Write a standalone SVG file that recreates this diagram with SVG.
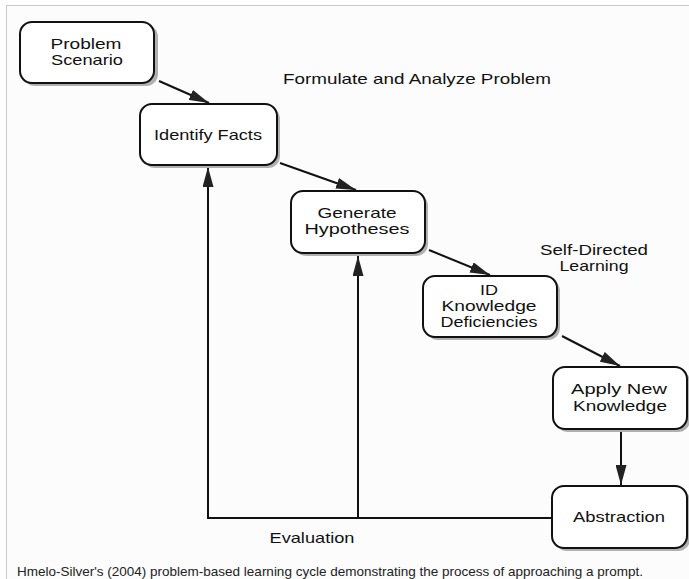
<svg xmlns="http://www.w3.org/2000/svg" width="689" height="579" viewBox="0 0 689 579">
<style>
.box{fill:#fff;stroke:#111;stroke-width:2}
.sh{fill:#b0b0b0}
.t{font-family:"Liberation Sans",Arial,sans-serif;font-size:15px;fill:#111;text-anchor:middle}
.ln{stroke:#111;stroke-width:2;fill:none}
.cap{font-family:"Liberation Sans",Arial,sans-serif;font-size:13px;fill:#222}
</style>
<defs>
<marker id="ah" viewBox="0 0 20 11" refX="20" refY="5.5" markerWidth="20" markerHeight="11" markerUnits="userSpaceOnUse" orient="auto">
<path d="M0,0 L20,5.5 L0,11 Z" fill="#222"/>
</marker>
</defs>
<rect x="0" y="0" width="689" height="579" fill="#fff"/>
<rect x="6.5" y="5.5" width="690" height="590" fill="#fcfcfc" stroke="#c8c8c8" stroke-width="1"/>
<g id="connectors">
<line class="ln" x1="159" y1="81" x2="209" y2="103" marker-end="url(#ah)"/>
<line class="ln" x1="280" y1="163" x2="356" y2="190" marker-end="url(#ah)"/>
<line class="ln" x1="429" y1="250" x2="490" y2="275" marker-end="url(#ah)"/>
<line class="ln" x1="562" y1="336" x2="620" y2="366" marker-end="url(#ah)"/>
<line class="ln" x1="621" y1="430" x2="621" y2="485" marker-end="url(#ah)"/>
<polyline class="ln" points="552,518 208,518 208,167" marker-end="url(#ah)"/>
<line class="ln" x1="358" y1="518" x2="358" y2="256" marker-end="url(#ah)"/>
</g>
<g id="problem-scenario">
<rect class="sh" x="23" y="25" width="135" height="61" rx="12"/>
<rect class="box" x="20" y="22" width="134" height="61" rx="12"/>
<text class="t" x="86" y="49" textLength="71" lengthAdjust="spacingAndGlyphs">Problem</text>
<text class="t" x="87" y="65" textLength="72" lengthAdjust="spacingAndGlyphs">Scenario</text>
</g>
<g id="identify-facts">
<rect class="sh" x="143" y="107" width="137" height="61" rx="12"/>
<rect class="box" x="140" y="104" width="137" height="61" rx="12"/>
<text class="t" x="208" y="140" textLength="108" lengthAdjust="spacingAndGlyphs">Identify Facts</text>
</g>
<g id="formulate-label">
<text class="t" x="417" y="84" textLength="268" lengthAdjust="spacingAndGlyphs">Formulate and Analyze Problem</text>
</g>
<g id="generate-hypotheses">
<rect class="sh" x="294" y="194" width="134" height="62" rx="12"/>
<rect class="box" x="291" y="191" width="134" height="62" rx="12"/>
<text class="t" x="357" y="218" textLength="79" lengthAdjust="spacingAndGlyphs">Generate</text>
<text class="t" x="357" y="234" textLength="105" lengthAdjust="spacingAndGlyphs">Hypotheses</text>
</g>
<g id="self-directed-label">
<text class="t" x="594" y="255" textLength="108" lengthAdjust="spacingAndGlyphs">Self-Directed</text>
<text class="t" x="594" y="271" textLength="69" lengthAdjust="spacingAndGlyphs">Learning</text>
</g>
<g id="id-knowledge">
<rect class="sh" x="426" y="279" width="134" height="61" rx="12"/>
<rect class="box" x="423" y="276" width="134" height="61" rx="12"/>
<text class="t" x="489" y="295" textLength="18" lengthAdjust="spacingAndGlyphs">ID</text>
<text class="t" x="489" y="311" textLength="95" lengthAdjust="spacingAndGlyphs">Knowledge</text>
<text class="t" x="489" y="327" textLength="97" lengthAdjust="spacingAndGlyphs">Deficiencies</text>
</g>
<g id="apply-new-knowledge">
<rect class="sh" x="556" y="370" width="134" height="62" rx="12"/>
<rect class="box" x="553" y="367" width="134" height="62" rx="12"/>
<text class="t" x="619" y="394" textLength="96" lengthAdjust="spacingAndGlyphs">Apply New</text>
<text class="t" x="620" y="411" textLength="94" lengthAdjust="spacingAndGlyphs">Knowledge</text>
</g>
<g id="abstraction">
<rect class="sh" x="555" y="489" width="135" height="62" rx="12"/>
<rect class="box" x="552" y="486" width="135" height="62" rx="12"/>
<text class="t" x="619" y="522" textLength="92" lengthAdjust="spacingAndGlyphs">Abstraction</text>
</g>
<g id="evaluation-label">
<text class="t" x="312" y="543" textLength="85" lengthAdjust="spacingAndGlyphs">Evaluation</text>
</g>
<text class="cap" x="17" y="576" textLength="626" lengthAdjust="spacingAndGlyphs">Hmelo-Silver's (2004) problem-based learning cycle demonstrating the process of approaching a prompt.</text>
</svg>
